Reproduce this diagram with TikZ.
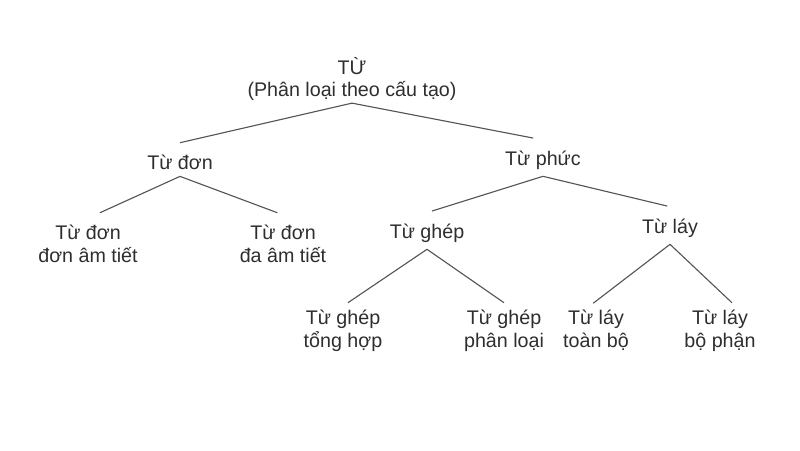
\documentclass[tikz,border=0pt]{standalone}
\usepackage{fontspec}
\setmainfont{Liberation Sans}
\definecolor{textgray}{HTML}{2E2E2E}
\definecolor{linegray}{HTML}{555555}
\begin{document}
\begin{tikzpicture}
[
 WORD/.style={font=\fontsize{14}{16.3}\selectfont, text=textgray, align=center,
              inner sep=0pt, outer ysep=5pt},
 TOP/.style={WORD, outer ysep=1.5pt},
 BRANCH/.style={draw=linegray, line width=0.8pt},
 ]
%
\useasboundingbox (0,0) rectangle (20,11.25);
%
\node [TOP]   (TU)        at ( 8.8,   9.275)  {TỪ\\(Phân loại theo cấu tạo)};
%
\node [WORD]  (DON)       at ( 4.5,   7.2)    {Từ đơn};
\node [WORD]  (PHUC)      at (13.575, 7.25)   {Từ phức};
%
\node [WORD]  (DONAM)     at ( 2.2,   5.1625) {Từ đơn\\đơn âm tiết};
\node [WORD]  (DAAM)      at ( 7.075, 5.1625) {Từ đơn\\đa âm tiết};
\node [WORD]  (GHEP)      at (10.675, 5.425)  {Từ ghép};
\node [WORD]  (LAY)       at (16.75,  5.55)   {Từ láy};
%
\node [WORD]  (TONGHOP)   at ( 8.575, 2.9875) {Từ ghép\\tổng hợp};
\node [WORD]  (PHANLOAI)  at (12.6,   2.9875) {Từ ghép\\phân loại};
\node [WORD]  (TOANBO)    at (14.9,   2.9875) {Từ láy\\toàn bộ};
\node [WORD]  (BOPHAN)    at (18.0,   2.9875) {Từ láy\\bộ phận};
%
\draw [BRANCH]  (TU.south)    -- ([yshift=3.5pt]DON.north) ;
\draw [BRANCH]  (TU.south)    -- ([xshift=-7pt,yshift=4pt]PHUC.north) ;
%
\draw [BRANCH]  (DON.south)   -- ([xshift=8.5pt,yshift=3.5pt]DONAM.north) ;
\draw [BRANCH]  (DON.south)   -- ([xshift=-4pt,yshift=3.5pt]DAAM.north) ;
%
\draw [BRANCH]  (PHUC.south)  -- ([xshift=3.5pt,yshift=4pt]GHEP.north) ;
\draw [BRANCH]  (PHUC.south)  -- ([xshift=-2pt,yshift=4pt]LAY.north) ;
%
\draw [BRANCH]  (GHEP.south)  -- ([xshift=3.5pt]TONGHOP.north) ;
\draw [BRANCH]  (GHEP.south)  -- (PHANLOAI.north) ;
%
\draw [BRANCH]  (LAY.south)   -- ([xshift=-2pt]TOANBO.north) ;
\draw [BRANCH]  (LAY.south)   -- ([xshift=8.5pt]BOPHAN.north) ;
%
\end{tikzpicture}
\end{document}
